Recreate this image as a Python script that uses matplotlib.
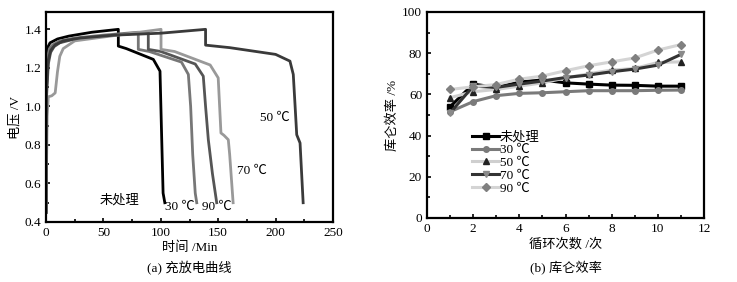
import matplotlib
matplotlib.use("Agg")
import matplotlib.pyplot as plt
from matplotlib.ticker import MultipleLocator

plt.rcParams['font.family'] = ['Liberation Serif', 'Noto Sans CJK SC', 'DejaVu Sans']

# ---- (a) charge/discharge curves: (time/min, voltage/V) points
curve_labels = ["未处理", "30 ℃", "90 ℃", "70 ℃", "50 ℃"]
t_untreated = [0, 0.3, 1, 3.5, 10, 20, 40, 63, 63, 70, 93.5, 99.3, 100.5, 102, 103.5]
v_untreated = [0.45, 1.2, 1.30, 1.33, 1.35, 1.365, 1.385, 1.40, 1.313, 1.30, 1.244, 1.183, 0.9, 0.55, 0.50]
t_30 = [0, 0.5, 1.5, 3, 6, 12, 25, 50, 80.4, 80.4, 90, 118, 124, 126, 127.8, 130, 131.3]
v_30 = [0.45, 1.1, 1.26, 1.30, 1.32, 1.34, 1.355, 1.37, 1.385, 1.296, 1.285, 1.23, 1.166, 1.0, 0.75, 0.55, 0.50]
t_90 = [0, 0.5, 2, 4, 7, 12, 25, 50, 89.1, 89.1, 100, 130, 137, 139, 141.4, 145, 148.7]
v_90 = [0.45, 1.05, 1.22, 1.28, 1.31, 1.33, 1.35, 1.365, 1.385, 1.296, 1.285, 1.22, 1.157, 1.0, 0.827, 0.65, 0.50]
t_70 = [0, 1, 2, 5, 8, 10, 12, 15, 25, 50, 100.2, 100.2, 112, 143, 150, 152.4, 155, 158.8, 160, 163]
v_70 = [0.45, 0.95, 1.05, 1.055, 1.07, 1.18, 1.26, 1.30, 1.34, 1.36, 1.40, 1.296, 1.285, 1.215, 1.148, 0.862, 0.85, 0.827, 0.75, 0.50]
t_50 = [0, 0.5, 2, 4, 8, 15, 30, 60, 100, 139, 139, 160, 200, 212.5, 215.4, 217, 218.4, 221.3, 224]
v_50 = [0.45, 1.10, 1.24, 1.29, 1.32, 1.34, 1.355, 1.37, 1.38, 1.40, 1.318, 1.305, 1.27, 1.235, 1.166, 1.0, 0.853, 0.81, 0.50]
curve_t = [t_untreated, t_30, t_90, t_70, t_50]
curve_v = [v_untreated, v_30, v_90, v_70, v_50]
curve_colors = ["#000000", "#777777", "#555555", "#999999", "#3a3a3a"]
label_pos = [(64, 0.51), (117, 0.48), (149, 0.48), (179, 0.667), (199, 0.94)]

# ---- (b) coulombic efficiency
cycles = [1, 2, 3, 4, 5, 6, 7, 8, 9, 10, 11]
eff_untreated = [54, 65, 63.4, 66, 67, 65.6, 65, 64.5, 64.4, 64, 64]
eff_30 = [51.6, 56.5, 59.4, 60.5, 60.8, 61.3, 61.8, 61.8, 61.8, 62, 62.1]
eff_50 = [58.4, 61.3, 62.4, 64, 65.6, 68, 70, 71.8, 72.6, 75.5, 75.8]
eff_70 = [51, 64, 63.4, 65, 66.5, 68.2, 69.4, 71, 72.3, 74.2, 79.4]
eff_90 = [62.4, 63.7, 64.8, 67.4, 68.9, 71.5, 73.9, 75.8, 77.7, 81.5, 84.2]
series_labels = ["未处理", "30 ℃", "50 ℃", "70 ℃", "90 ℃"]
series = [eff_untreated, eff_30, eff_50, eff_70, eff_90]
line_colors = ["#000000", "#7a7a7a", "#cfcfcf", "#333333", "#d4d4d4"]
marker_colors = ["#000000", "#7a7a7a", "#222222", "#8a8a8a", "#808080"]
markers = ["s", "o", "^", "v", "D"]

fig = plt.figure(figsize=(7.37, 2.82), dpi=100)
FS = 9.5

ax1 = fig.add_axes([46/737, 1-222/282, 287/737, 210/282])
for t, v, c in zip(curve_t, curve_v, curve_colors):
    ax1.plot(t, v, color=c, lw=2.0, solid_joinstyle='round')
for lab, (x, y) in zip(curve_labels, label_pos):
    ax1.text(x, y, lab, fontsize=FS, ha='center', va='center')
ax1.set_xlim(0, 250)
ax1.set_ylim(0.4, 1.49)
ax1.xaxis.set_major_locator(MultipleLocator(50))
ax1.xaxis.set_minor_locator(MultipleLocator(25))
ax1.yaxis.set_minor_locator(MultipleLocator(0.1))
ax1.set_yticks([0.4, 0.6, 0.8, 1.0, 1.2, 1.4])
ax1.set_yticklabels(["0.4", "0.6", "0.8", "1.0", "1.2", "1.4"])
ax1.set_xlabel("时间 /Min", fontsize=FS, labelpad=2)
ax1.set_ylabel("电压 /V", fontsize=FS, labelpad=2)
ax1.text(0.5, -0.219, "(a) 充放电曲线", transform=ax1.transAxes, ha='center', va='center', fontsize=FS)

ax2 = fig.add_axes([427/737, 1-218/282, 277/737, 206/282])
for y, lab, lc, mc, m in zip(series, series_labels, line_colors, marker_colors, markers):
    ax2.plot(cycles, y, color=lc, lw=2.2, marker=m, markersize=4, markerfacecolor=mc,
             markeredgecolor=mc, label=lab)
ax2.set_xlim(0, 12)
ax2.set_ylim(0, 100)
ax2.xaxis.set_major_locator(MultipleLocator(2))
ax2.xaxis.set_minor_locator(MultipleLocator(1))
ax2.yaxis.set_major_locator(MultipleLocator(20))
ax2.yaxis.set_minor_locator(MultipleLocator(10))
ax2.set_xlabel("循环次数 /次", fontsize=FS, labelpad=2)
ax2.set_ylabel("库仑效率 /%", fontsize=FS, labelpad=2)
ax2.text(0.5, -0.243, "(b) 库仑效率", transform=ax2.transAxes, ha='center', va='center', fontsize=FS)
leg = ax2.legend(loc='upper left', bbox_to_anchor=(0.14, 0.455), frameon=False, fontsize=FS,
                 handlelength=2.0, handletextpad=0.1, labelspacing=0.05, borderpad=0.0)

for ax in (ax1, ax2):
    for s in ax.spines.values():
        s.set_linewidth(1.6)
    ax.tick_params(which='both', direction='in', labelsize=FS, width=1.2)
    ax.tick_params(which='major', length=3)
    ax.tick_params(which='minor', length=2)

fig.savefig("out.png", dpi=100)
